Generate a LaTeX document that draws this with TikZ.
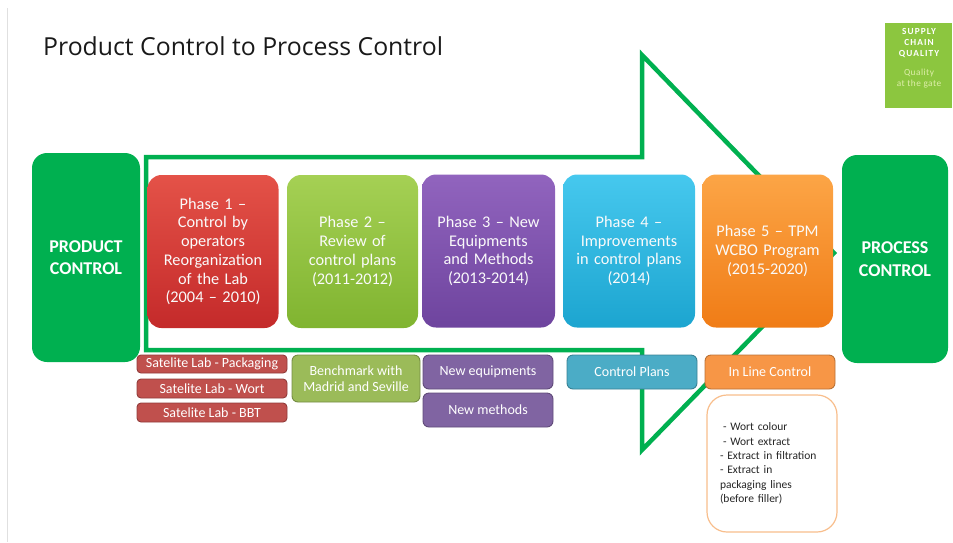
\documentclass[tikz,border=0pt]{standalone}
\usepackage{fontspec}
\setmainfont{Carlito}
\newfontfamily\headfont{Open Sans}
\usepackage{xcolor}
\usepackage{tikz}
\usetikzlibrary{shapes.geometric,arrows.meta,positioning,calc}

\definecolor{ctrlgreen}{RGB}{0,176,80}
\definecolor{scqgreen}{RGB}{140,198,63}
\definecolor{scqtext}{RGB}{222,238,170}
\definecolor{redTop}{RGB}{228,82,72}
\definecolor{redBot}{RGB}{196,42,42}
\definecolor{limeTop}{RGB}{165,208,84}
\definecolor{limeBot}{RGB}{128,180,48}
\definecolor{violetTop}{RGB}{145,100,190}
\definecolor{violetBot}{RGB}{110,68,158}
\definecolor{cyanTop}{RGB}{70,200,238}
\definecolor{cyanBot}{RGB}{28,165,208}
\definecolor{orangeTop}{RGB}{252,165,70}
\definecolor{orangeBot}{RGB}{240,124,22}
\definecolor{subred}{RGB}{192,80,77}
\definecolor{sublime}{RGB}{155,187,89}
\definecolor{subviolet}{RGB}{128,100,162}
\definecolor{subcyan}{RGB}{75,172,198}
\definecolor{suborange}{RGB}{247,150,70}
\definecolor{listedge}{RGB}{248,190,140}

\begin{document}
\begin{tikzpicture}[x=1pt, y=-1pt,
    stage/.style={rounded corners=15pt, minimum width=108pt, minimum height=209pt, fill=ctrlgreen, text=white, align=center, font=\fontsize{18}{22.5}\selectfont\bfseries},
    phase/.style={rounded corners=14pt, minimum width=131pt, minimum height=153pt, text width=127pt, inner sep=0pt, align=center, text=white!96!gray, font=\fontsize{16.3}{18.7}\selectfont},
    sub_box/.style={rounded corners=4pt, minimum width=150pt, minimum height=18pt, inner sep=0pt, line width=0.9pt, align=center, text=white, font=\fontsize{14}{15.5}\selectfont},
    arrow_edge/.style={line width=4.5pt, draw=ctrlgreen, line join=miter}
]

    \useasboundingbox (0,0) rectangle (953,542);
    \draw[black!12, line width=1pt] (7,8) -- (7,542);

    \node[anchor=base west, inner sep=0pt, font=\headfont\fontsize{24.8}{30}\selectfont, text=black!90] (title) at (43,55) {Product Control to Process Control};

    % badge, top right
    \node[fill=scqgreen, minimum width=67pt, minimum height=85pt, inner sep=0pt] (scq) at (918.5,65.5) {};
    \node[text=white, align=center, font=\fontsize{9.3}{11}\selectfont\bfseries\addfontfeature{LetterSpace=12}] (scq1) at (919,43) {SUPPLY\\CHAIN\\QUALITY};
    \node[text=scqtext, align=center, font=\fontsize{9.3}{11}\selectfont\addfontfeature{LetterSpace=5}] (scq2) at (919,78.5) {Quality\\at the gate};

    % big outline arrow behind the phases
    \draw[arrow_edge] (146,157) -- (642,157) -- (642,55) -- (834,253)
        -- (642,450) -- (642,350) -- (146,350) -- cycle;

    \node[stage] (product) at (86,257.5) {PRODUCT\\CONTROL};
    \node[stage, minimum width=106pt, minimum height=208pt] (process) at (895,259) {PROCESS\\CONTROL};

    \node[phase, top color=redTop, bottom color=redBot] (p1) at (213,251.5) {Phase 1 --\\Control by\\operators\\Reorganization\\of the Lab\\(2004 -- 2010)};
    \node[phase, top color=limeTop, bottom color=limeBot] (p2) at (352.5,251.5) {Phase 2 --\\Review of\\control plans\\(2011-2012)};
    \node[phase, top color=violetTop, bottom color=violetBot, minimum width=133pt] (p3) at (488.5,251) {Phase 3 -- New\\Equipments\\and Methods\\(2013-2014)};
    \node[phase, top color=cyanTop, bottom color=cyanBot, minimum width=132pt] (p4) at (629,251) {Phase 4 --\\Improvements\\in control plans\\(2014)};
    \node[phase, top color=orangeTop, bottom color=orangeBot] (p5) at (767.5,251) {Phase 5 -- TPM\\WCBO Program\\(2015-2020)};

    \node[sub_box, fill=subred, draw=subred!75!black] (s1a) at (212,364) {Satelite Lab - Packaging};
    \node[sub_box, fill=subred, draw=subred!75!black, minimum height=19pt] (s1b) at (212,388.5) {Satelite Lab - Wort};
    \node[sub_box, fill=subred, draw=subred!75!black, minimum height=19pt] (s1c) at (212,412.5) {Satelite Lab - BBT};
    \node[sub_box, fill=sublime, draw=sublime!75!black, minimum width=128pt, minimum height=47pt, rounded corners=6pt] (s2) at (356,378.5) {Benchmark with\\Madrid and Seville};
    \node[sub_box, fill=subviolet, draw=subviolet!75!black, minimum width=130pt, minimum height=34pt, rounded corners=6pt] (s3a) at (488,372) {New equipments};
    \node[sub_box, fill=subviolet, draw=subviolet!75!black, minimum width=130pt, minimum height=34pt, rounded corners=6pt] (s3b) at (488,410) {New methods};
    \node[sub_box, fill=subcyan, draw=subcyan!75!black, minimum width=130pt, minimum height=34pt, rounded corners=6pt] (s4) at (632,372) {Control Plans};
    \node[sub_box, fill=suborange, draw=suborange!75!black, minimum width=130pt, minimum height=34pt, rounded corners=6pt] (s5) at (770,372) {In Line Control};

    \node[draw=listedge, line width=1.2pt, fill=white, rounded corners=20pt, minimum width=130pt, minimum height=137pt, text width=104pt, inner xsep=13pt, align=left, text=black!85, font=\fontsize{11.5}{14.4}\selectfont] (checks) at (772,463.5)
        {\hspace*{3pt}- Wort colour\\\hspace*{3pt}- Wort extract\\- Extract in filtration\\- Extract in\\packaging lines\\(before filler)};
\end{tikzpicture}
\end{document}
